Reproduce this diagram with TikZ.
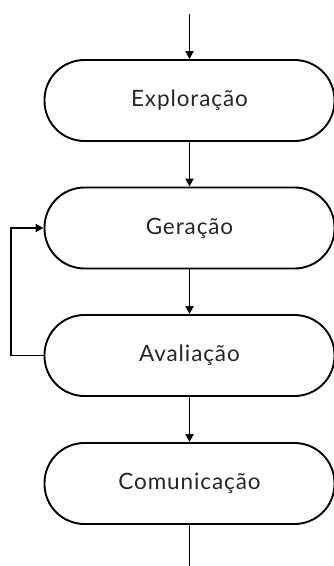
\documentclass[tikz,border=0pt]{standalone}
\usepackage{fontspec}
\setmainfont{Lato}[LetterSpace=4]
\usetikzlibrary{arrows.meta}
\definecolor{txt}{HTML}{262626}
\begin{document}
\begin{tikzpicture}[x=1pt,y=-1pt,
  stage/.style={draw=black,line width=1.9pt,rounded corners=40pt,minimum width=290pt,minimum height=81pt,inner sep=0pt,font=\fontsize{22.5}{26}\selectfont,text=txt},
  conn/.style={line width=1.9pt,-{Triangle[width=8pt,length=8pt]}}]
\useasboundingbox (0,0) rectangle (333,566);
\node[stage] (exp) at (189.5,100.5) {Exploração};
\node[stage] (ger) at (189.5,228) {Geração};
\node[stage] (ava) at (189.5,355.5) {Avaliação};
\node[stage] (com) at (189.5,483.5) {Comunicação};
\coordinate (start) at (189.5,14);
\coordinate (end) at (189.5,574);
\coordinate (lb) at (11,355.5);
\coordinate (lt) at (11,228);
\draw[conn] (start) -- (exp.north);
\draw[conn] (exp.south) -- (ger.north);
\draw[conn] (ger.south) -- (ava.north);
\draw[conn] (ava.south) -- (com.north);
\draw[conn] (com.south) -- (end);
\draw[conn] (ava.west) -- (lb) -- (lt) -- (ger.west);
\end{tikzpicture}
\end{document}
